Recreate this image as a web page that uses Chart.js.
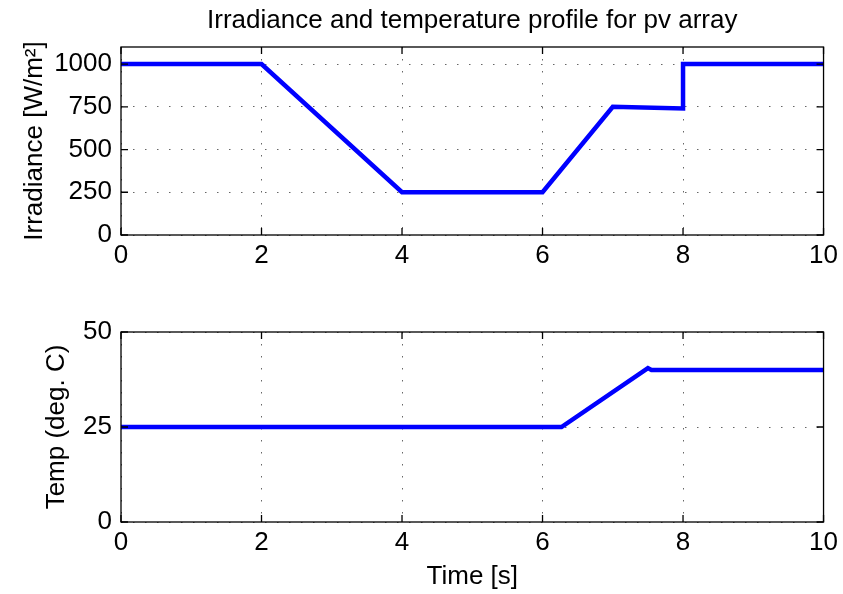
<!DOCTYPE html>
<html>
<head>
<meta charset="utf-8">
<script src="https://cdn.jsdelivr.net/npm/chart.js@4/dist/chart.umd.min.js"></script>
<style>
  html, body { margin: 0; padding: 0; background: #fff; }
  #wrap { position: relative; width: 843px; height: 594px; }
  #c1, #c2 { position: absolute; left: 0; }
  #c1 { top: 0; }
  #c2 { top: 290px; }
</style>
</head>
<body>
<div id="wrap">
  <canvas id="c1" width="843" height="290"></canvas>
  <canvas id="c2" width="843" height="304"></canvas>
</div>
<script>
// ---- data ----
const irrTime = [0, 2, 4, 6, 7, 8, 8, 10];
const irrValues = [1000, 1000, 250, 250, 750, 740, 1000, 1000];
const tempTime = [0, 6.27, 7.5, 7.55, 10];
const tempValues = [25, 25, 40.5, 40, 40];
const xTicks = [0, 2, 4, 6, 8, 10];
const irrTicks = [0, 250, 500, 750, 1000];
const tempTicks = [0, 25, 50];
const titleText = 'Irradiance and temperature profile for pv array';
const irrLabel = 'Irradiance [W/m\u00B2]';
const tempLabel = 'Temp (deg. C)';
const timeLabel = 'Time [s]';

const FONT = '"Liberation Sans", Arial, Helvetica, sans-serif';
const FS = 26;
Chart.defaults.font.family = FONT;
Chart.defaults.color = '#000';

const boxPlugin = {
  id: 'matlabBox',
  afterDraw(chart, args, opts) {
    const {ctx, chartArea: a} = chart;
    const xs = chart.scales.x, ys = chart.scales.y;
    const L = 7;
    ctx.save();
    ctx.strokeStyle = '#000';
    ctx.lineWidth = 1.3;
    ctx.beginPath();
    xs.ticks.forEach(t => {
      const px = xs.getPixelForValue(t.value);
      ctx.moveTo(px, a.bottom); ctx.lineTo(px, a.bottom - L);
      ctx.moveTo(px, a.top); ctx.lineTo(px, a.top + L);
    });
    ys.ticks.forEach(t => {
      const py = ys.getPixelForValue(t.value);
      ctx.moveTo(a.left, py); ctx.lineTo(a.left + L, py);
      ctx.moveTo(a.right, py); ctx.lineTo(a.right - L, py);
    });
    ctx.stroke();
    ctx.strokeRect(a.left, a.top, a.right - a.left, a.bottom - a.top);
    if (opts && opts.text) {
      ctx.fillStyle = '#000';
      ctx.font = FS + 'px ' + FONT;
      ctx.textAlign = 'center';
      ctx.textBaseline = 'middle';
      ctx.fillText(opts.text, (a.left + a.right) / 2, opts.y);
    }
    ctx.restore();
  }
};

function makeChart(id, xsArr, ysArr, cfg) {
  const pts = xsArr.map((x, i) => ({x: x, y: ysArr[i]}));
  return new Chart(document.getElementById(id), {
    type: 'line',
    data: { datasets: [{ data: pts, borderColor: '#0000FF', borderWidth: 4.5, pointRadius: 0, tension: 0, fill: false }] },
    options: {
      responsive: false,
      animation: false,
      events: [],
      layout: { padding: cfg.padding },
      plugins: {
        legend: { display: false },
        tooltip: { enabled: false },
        title: { display: false },
        matlabBox: cfg.topTitle
      },
      scales: {
        x: {
          type: 'linear', min: 0, max: 10,
          afterBuildTicks: s => { s.ticks = xTicks.map(v => ({value: v})); },
          afterFit: s => { s.height = cfg.xHeight; },
          grid: { color: '#666', lineWidth: 1, drawTicks: false },
          border: { display: false, dash: [1.5, 10.5] },
          ticks: { font: { size: FS }, padding: cfg.xTickPad, maxRotation: 0, callback: v => String(v) },
          title: cfg.xTitle
        },
        y: {
          type: 'linear', min: cfg.yMin, max: cfg.yMax,
          afterBuildTicks: s => { s.ticks = cfg.yTicks.map(v => ({value: v})); },
          afterFit: s => { s.width = 121; },
          grid: { color: '#666', lineWidth: 1, drawTicks: false },
          border: { display: false, dash: [1.5, 10.5] },
          ticks: { font: { size: FS }, padding: 9, callback: v => String(v) },
          title: { display: true, text: cfg.yLabel, font: { size: FS }, padding: { top: cfg.yTitlePad, bottom: 0 } }
        }
      }
    },
    plugins: [boxPlugin]
  });
}

makeChart('c1', irrTime, irrValues, {
  padding: { left: 0, right: 19, top: 47, bottom: 0 },
  topTitle: { text: titleText, y: 21 },
  xHeight: 55, xTickPad: 5,
  xTitle: { display: false },
  yMin: 0, yMax: 1100, yTicks: irrTicks, yLabel: irrLabel, yTitlePad: 19
});

makeChart('c2', tempTime, tempValues, {
  padding: { left: 0, right: 19, top: 42, bottom: 0 },
  topTitle: { text: '' },
  xHeight: 72, xTickPad: 5,
  xTitle: { display: true, text: timeLabel, font: { size: FS }, padding: { top: 0, bottom: 2 } },
  yMin: 0, yMax: 50, yTicks: tempTicks, yLabel: tempLabel, yTitlePad: 41
});
</script>
</body>
</html>
